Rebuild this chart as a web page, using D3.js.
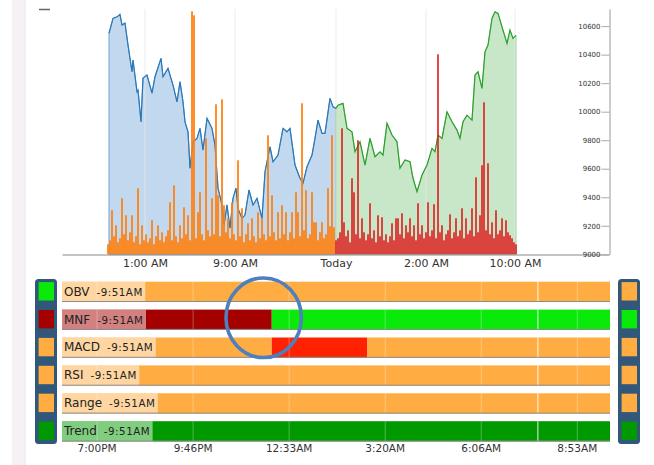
<!DOCTYPE html>
<html>
<head>
<meta charset="utf-8">
<script src="https://cdn.jsdelivr.net/npm/d3@7"></script>
<style>
  body { margin: 0; background: #fff; }
  svg { display: block; font-family: "DejaVu Sans", Verdana, sans-serif; }
</style>
</head>
<body>
<div id="container"></div>
<script>

/* DATA */
// price closes, t = session bar index
const bluePriceT = [1, 5, 9, 12, 14, 17, 20, 24, 25, 29, 30, 33, 35, 39, 44, 47, 53, 55, 60, 65,
  69, 72, 75, 77, 80, 82, 85, 89, 92, 95, 99, 104, 107, 110, 114, 116, 119, 122, 125, 128,
  130, 134, 137, 141, 145, 149, 154, 157, 162, 165, 170, 175, 179, 182, 187, 192, 195, 199, 204, 207,
  210, 214, 217, 222, 225, 228]
const bluePrice = [10550, 10654, 10665, 10682, 10607, 10621, 10467, 10280, 10362, 10140,
  10151, 9929, 10236, 10257, 10130, 10245, 10374, 10245, 10304, 10186,
  10069, 10210, 10069, 9929, 9859, 9603, 9789, 9813, 9883, 9731,
  9953, 9883, 9766, 9463, 9346, 9205, 9346, 9184, 9392, 9463,
  9322, 9252, 9275, 9451, 9346, 9392, 9252, 9579, 9754, 9649,
  9696, 9883, 9859, 9883, 9626, 9533, 9498, 9614, 9696, 9813,
  9941, 9848, 9848, 10093, 10034, 10023]

const greenPriceT = [230, 235, 239, 244, 247, 252, 257, 262, 267, 272,
  275, 279, 284, 289, 292, 297, 302, 305, 309, 314,
  319, 324, 327, 330, 334, 339, 344, 349, 352, 355,
  359, 364, 367, 370, 374, 377, 380, 384, 387, 390,
  394, 399, 402, 405, 408]
const greenPrice = [10046, 10058, 9883, 9859, 9719, 9789, 9626, 9813, 9684, 9719,
  9696, 9918, 9836, 9789, 9603, 9661, 9649, 9533, 9439, 9556,
  9626, 9743, 9719, 9836, 9813, 9999, 9929, 9871, 9813, 9929,
  9976, 9941, 10257, 10280, 10163, 10420, 10467, 10654, 10700, 10689,
  10595, 10479, 10572, 10514, 10535]

// volume, one bar every 2 index steps
const volStep = 2
const orangeStart = 0
const orangeVol = [10, 14, 44, 18, 29, 12, 16, 56, 20, 39,
  14, 22, 39, 12, 18, 66, 10, 29, 14, 20,
  12, 16, 34, 10, 18, 29, 14, 22, 12, 18,
  24, 52, 14, 69, 18, 12, 29, 16, 47, 20,
  39, 14, 243, 239, 16, 42, 62, 20, 14, 116,
  24, 18, 56, 20, 150, 59, 18, 155, 49, 22,
  36, 16, 52, 20, 14, 94, 18, 46, 12, 20,
  31, 14, 36, 18, 12, 42, 16, 36, 20, 14,
  119, 18, 59, 22, 14, 42, 16, 49, 20, 42,
  14, 22, 42, 16, 62, 42, 18, 151, 24, 64,
  16, 20, 62, 32, 32, 14, 22, 32, 16, 20,
  66, 28, 119, 27]
const redStart = 228
const redVol = [14, 16, 22, 126, 32, 18, 24, 12, 76, 62,
  20, 114, 16, 36, 22, 14, 20, 51, 16, 24,
  12, 39, 18, 37, 14, 20, 12, 18, 31, 14,
  36, 36, 20, 41, 16, 29, 22, 36, 18, 29,
  14, 51, 20, 29, 16, 22, 52, 18, 24, 50,
  16, 200, 22, 29, 14, 20, 24, 40, 16, 22,
  36, 18, 24, 46, 16, 36, 20, 24, 46, 18,
  77, 22, 39, 89, 152, 24, 91, 20, 32, 16,
  44, 20, 24, 36, 18, 34, 22, 19, 16, 12,
  10]

const topTickT = [37, 127, 228, 318, 407]
const topTickLabels = ["1:00 AM", "9:00 AM", "Today", "2:00 AM", "10:00 AM"]
const priceTicks = [9000, 9200, 9400, 9600, 9800, 10000, 10200, 10400, 10600]

// indicator panel
const rows = ["OBV", "MNF", "MACD", "RSI", "Range", "Trend"]
const updated = "9:51AM"
const segRow   = ["OBV",   "MNF",   "MNF",   "MACD",  "MACD",  "MACD",  "RSI",   "Range", "Trend"]
const segFrom  = ["18:00", "18:00", "00:04", "18:00", "00:04", "02:50", "18:00", "18:00", "18:00"]
const segTo    = ["09:51", "00:04", "09:51", "00:04", "02:50", "09:51", "09:51", "09:51", "09:51"]
const segState = ["flat",  "down",  "up",    "flat",  "hot",   "flat",  "flat",  "flat",  "trend"]
const leftState  = ["up", "down", "flat", "flat", "flat", "trend"]
const rightState = ["flat", "up", "flat", "flat", "flat", "trend"]
const timeTicks = ["19:00", "21:46:40", "00:33:20", "03:20", "06:06:40", "08:53:20"]
const markerTime = "07:45"
const highlightTime = "23:50"

const stateColor = {
  flat: "#ffad42",
  up: "#0aea0a",
  down: "#a40000",
  hot: "#ff2200",
  trend: "#009a00"
}

/* HELPERS */
function toDate(s) {
  const [h, m, sec] = s.split(":").map(Number)
  return h >= 12 ? new Date(2024, 0, 1, h, m, sec || 0) : new Date(2024, 0, 2, h, m, sec || 0)
}

/* SVG */
const width = 654, height = 465
const svg = d3.select("#container").append("svg")
  .attr("width", width)
  .attr("height", height)

// page side strip
svg.append("rect").attr("x", 12).attr("y", 0).attr("width", 13).attr("height", height)
  .attr("fill", "#f5f1f5")
svg.append("line").attr("x1", 25).attr("x2", 25).attr("y1", 0).attr("y2", height)
  .attr("stroke", "#ebe6eb")
svg.append("line").attr("x1", 39).attr("x2", 50).attr("y1", 9.5).attr("y2", 9.5)
  .attr("stroke", "#666").attr("stroke-width", 1.5)

/* TOP CHART SCALES */
const xTop = d3.scaleLinear().domain([-46, 501]).range([62, 609])
const yP = d3.scaleLinear().domain([9000, 10720]).range([254.3, 9])
const yV = d3.scaleLinear().domain([0, 245]).range([254.3, 9.3])

const blueData = bluePriceT.map((t, i) => ({ t, v: bluePrice[i] }))
const greenData = [blueData[blueData.length - 1]].concat(greenPriceT.map((t, i) => ({ t, v: greenPrice[i] })))

const area = d3.area().x(d => xTop(d.t)).y0(yP(9000)).y1(d => yP(d.v))
const line = d3.line().x(d => xTop(d.t)).y(d => yP(d.v))

svg.append("path").datum(blueData).attr("d", area)
  .attr("fill", "#c1d8ee").attr("stroke", "#6fa3d3").attr("stroke-width", 1)
svg.append("path").datum(greenData).attr("d", area)
  .attr("fill", "#c8e6c8").attr("stroke", "#93d093").attr("stroke-width", 1)

// grid
svg.append("g").selectAll("line").data(topTickT).join("line")
  .attr("x1", d => xTop(d)).attr("x2", d => xTop(d))
  .attr("y1", yP.range()[1]).attr("y2", yP.range()[0])
  .attr("stroke", "#e6e6e6").attr("stroke-opacity", 0.8)

svg.append("path").datum(blueData).attr("d", line)
  .attr("fill", "none").attr("stroke", "#2a78b6").attr("stroke-width", 1.2)
svg.append("path").datum(greenData).attr("d", line)
  .attr("fill", "none").attr("stroke", "#2ca02c").attr("stroke-width", 1.2)

// volume
svg.append("g").selectAll("rect").data(orangeVol).join("rect")
  .attr("x", (d, i) => xTop(orangeStart + i * volStep) - 1)
  .attr("width", 2)
  .attr("y", d => yV(d))
  .attr("height", d => yV(0) - yV(d))
  .attr("fill", "#ff7f0e").attr("fill-opacity", 0.88)
svg.append("g").selectAll("rect").data(redVol).join("rect")
  .attr("x", (d, i) => xTop(redStart + i * volStep) - 1)
  .attr("width", 2)
  .attr("y", d => yV(d))
  .attr("height", d => yV(0) - yV(d))
  .attr("fill", "#dd2020").attr("fill-opacity", 0.82)

// axes
const xAxisTop = d3.axisBottom(xTop)
  .tickValues(topTickT)
  .tickFormat((d, i) => topTickLabels[i])
  .tickSize(0)
  .tickPadding(4.7)
const gx = svg.append("g").attr("transform", "translate(0,254.5)").call(xAxisTop)
gx.select(".domain").attr("stroke", "#888")
gx.selectAll("text").attr("font-size", 11).attr("fill", "#333").attr("font-family", "DejaVu Sans")

const yAxis = d3.axisLeft(yP).tickValues(priceTicks).tickFormat(d3.format("d"))
  .tickSize(8).tickSizeOuter(0).tickPadding(1)
const gy = svg.append("g").attr("transform", "translate(609.5,0)").call(yAxis)
gy.select(".domain").attr("stroke", "#999")
gy.selectAll(".tick line").attr("stroke", "#aaa")
gy.selectAll("text").attr("font-size", 7).attr("fill", "#333").attr("font-family", "DejaVu Sans")

/* INDICATOR PANEL */
const xTime = d3.scaleTime().domain([toDate("18:00"), toDate("09:51")]).range([62, 610])
const yRow = d3.scaleBand().domain(rows).range([281.7, 441.5]).paddingInner(0.272)

// side panels
const sides = [
  { x: 35, states: leftState },
  { x: 618, states: rightState }
]
sides.forEach(s => {
  svg.append("rect").attr("x", s.x).attr("y", 279).attr("width", 22).attr("height", 165)
    .attr("rx", 3.5).attr("fill", "#31577a")
  svg.append("g").selectAll("rect").data(s.states).join("rect")
    .attr("x", s.x + 3.6)
    .attr("y", (d, i) => yRow(rows[i]) + 0.4)
    .attr("width", 15.4)
    .attr("height", 18.4)
    .attr("fill", d => stateColor[d])
})

// segments
svg.append("g").selectAll("rect").data(segRow).join("rect")
  .attr("x", (d, i) => xTime(toDate(segFrom[i])))
  .attr("width", (d, i) => xTime(toDate(segTo[i])) - xTime(toDate(segFrom[i])))
  .attr("y", d => yRow(d))
  .attr("height", yRow.bandwidth())
  .attr("fill", (d, i) => stateColor[segState[i]])

// labels
const rowG = svg.append("g").selectAll("g").data(rows).join("g")
rowG.each(function (r) {
  const g = d3.select(this)
  const txt = g.append("text")
    .attr("x", 64)
    .attr("y", yRow(r) + 14)
    .attr("fill", "#222")
  txt.append("tspan").attr("font-size", 12).text(r)
  txt.append("tspan").attr("font-size", 10.3).attr("dx", 7).attr("letter-spacing", 0.5).text("-" + updated)
  const bb = txt.node().getBBox()
  g.insert("rect", "text")
    .attr("x", xTime.range()[0])
    .attr("y", yRow(r))
    .attr("width", bb.x + bb.width + 2.5 - xTime.range()[0])
    .attr("height", yRow.bandwidth())
    .attr("fill", "#fff").attr("fill-opacity", 0.5)
  // time grid inside row
  g.insert("g", "text").selectAll("line").data(timeTicks).join("line")
    .attr("x1", d => xTime(toDate(d)) + 0.5).attr("x2", d => xTime(toDate(d)) + 0.5)
    .attr("y1", yRow(r)).attr("y2", yRow(r) + yRow.bandwidth())
    .attr("stroke", "#fff").attr("stroke-opacity", 0.3)
  g.insert("line", "text")
    .attr("x1", xTime(toDate(markerTime)) + 0.5).attr("x2", xTime(toDate(markerTime)) + 0.5)
    .attr("y1", yRow(r)).attr("y2", yRow(r) + yRow.bandwidth())
    .attr("stroke", "#fff").attr("stroke-opacity", 0.9)
  g.append("line")
    .attr("x1", xTime.range()[0]).attr("x2", xTime.range()[1])
    .attr("y1", yRow(r) + yRow.bandwidth() - 0.5).attr("y2", yRow(r) + yRow.bandwidth() - 0.5)
    .attr("stroke", "#8c8c8c")
})

// time axis
const tAxis = d3.axisBottom(xTime)
  .tickValues(timeTicks.map(toDate))
  .tickFormat(d3.timeFormat("%-I:%M%p"))
  .tickSize(0)
  .tickPadding(2.7)
const gt = svg.append("g").attr("transform", "translate(0,441.5)").call(tAxis)
gt.select(".domain").remove()
gt.selectAll("text").attr("font-size", 10.5).attr("fill", "#333").attr("font-family", "DejaVu Sans")

// highlight ring
svg.append("ellipse")
  .attr("cx", xTime(toDate(highlightTime)))
  .attr("cy", yRow("MNF") + yRow.bandwidth() / 2 - 2)
  .attr("rx", 37.7).attr("ry", 39.8)
  .attr("fill", "none")
  .attr("stroke", "#4f7fbd")
  .attr("stroke-width", 3.6)

</script>
</body>
</html>
